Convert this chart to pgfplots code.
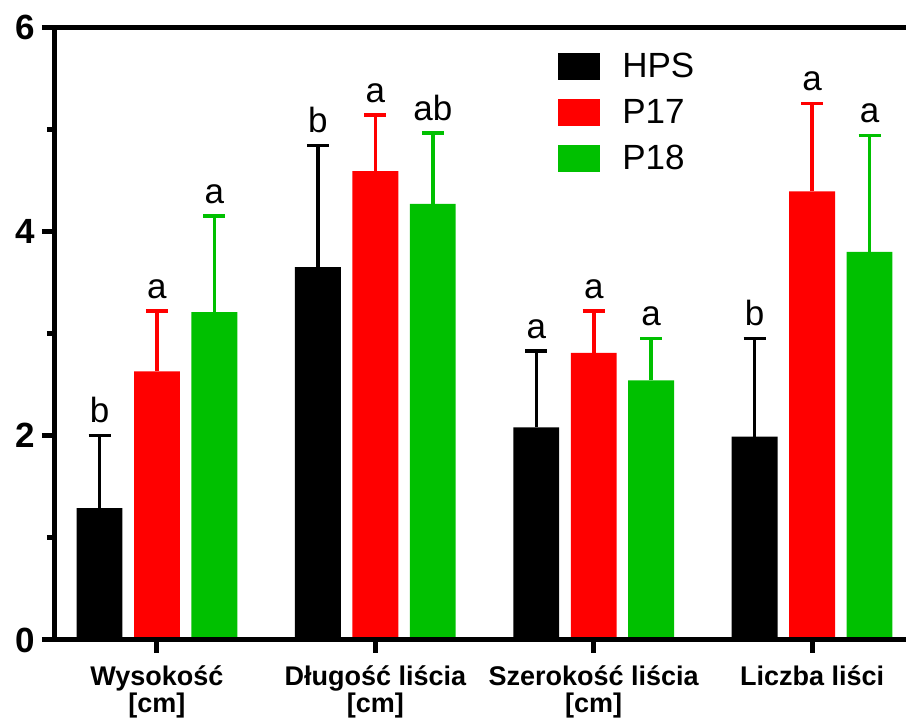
\documentclass[border=0pt]{standalone}
\usepackage{pgfplots}
\pgfplotsset{compat=1.18}
\usepackage{fontspec}
\setmainfont{Liberation Sans}
\definecolor{pred}{RGB}{255,0,0}
\definecolor{pgreen}{RGB}{0,192,0}
\begin{document}
\begin{tikzpicture}
\useasboundingbox (-27.5pt,-41pt) rectangle (425.5pt,320pt);
\begin{axis}[
  at={(0,0)}, anchor=south west,
  scale only axis, width=425.5pt, height=306.5pt,
  xmin=-0.467, xmax=3.43, ymin=0, ymax=6,
  axis x line*=bottom, axis y line*=left,
  axis line style={line width=2.5pt,-},
  axis on top, clip=false,
  tick align=outside,
  major tick length=6.5pt, minor tick length=4pt,
  tick style={line width=2.5pt, black},
  xtick={0,1,2,3},
  xticklabels={{Wysokość\\{}[cm]},{Długość liścia\\{}[cm]},{Szerokość liścia\\{}[cm]},{Liczba liści}},
  xticklabel style={align=center, font=\bfseries\fontsize{13.5}{13.5}\selectfont, anchor=north, yshift=-3pt},
  ytick={0,2,4,6}, minor ytick={1,3,5},
  yticklabel style={font=\bfseries\fontsize{17.5}{20}\selectfont},
  /pgf/number format/assume math mode=true,
  legend image code/.code={\fill[#1] (0pt,-6.5pt) rectangle (20.5pt,6.5pt); \path (30pt,0pt);},
  legend style={at={(0.583,0.972)}, anchor=north west, draw=none, fill=none,
    font=\fontsize{17.5}{20}\selectfont, row sep=5.5pt},
  legend cell align=left,
]
\draw[line width=2.5pt] (rel axis cs:0,1) -- (rel axis cs:1,1);
% HPS
\addplot[ybar, bar width=0.21, bar shift=0pt, fill=black, draw=none, forget plot,
  error bars/.cd, y dir=plus, y explicit,
  error bar style={line width=1.8pt, black},
  error mark options={rotate=90, line width=1.8pt, mark size=5.5pt, black}]
  coordinates {(-0.263,1.29) +- (0,0.71) (0.737,3.65) +- (0,1.19) (1.737,2.08) +- (0,0.75) (2.737,1.99) +- (0,0.96)};
% P17
\addplot[ybar, bar width=0.21, bar shift=0pt, fill=pred, draw=none, forget plot,
  error bars/.cd, y dir=plus, y explicit,
  error bar style={line width=1.8pt, pred},
  error mark options={rotate=90, line width=1.8pt, mark size=5.5pt, pred}]
  coordinates {(0,2.63) +- (0,0.59) (1,4.59) +- (0,0.55) (2,2.81) +- (0,0.41) (3,4.39) +- (0,0.86)};
% P18
\addplot[ybar, bar width=0.21, bar shift=0pt, fill=pgreen, draw=none, forget plot,
  error bars/.cd, y dir=plus, y explicit,
  error bar style={line width=1.8pt, pgreen},
  error mark options={rotate=90, line width=1.8pt, mark size=5.5pt, pgreen}]
  coordinates {(0.263,3.21) +- (0,0.94) (1.263,4.27) +- (0,0.69) (2.263,2.54) +- (0,0.41) (3.263,3.80) +- (0,1.14)};
% letters
\addplot[draw=none, forget plot, nodes near coords, point meta=explicit symbolic,
  nodes near coords style={font=\fontsize{17.5}{20}\selectfont, anchor=south, inner sep=0pt, yshift=6pt}]
  coordinates {(-0.263,2.00)[b] (0,3.22)[a] (0.263,4.15)[a]
               (0.737,4.84)[b] (1,5.14)[a] (1.263,4.96)[ab]
               (1.737,2.83)[a] (2,3.22)[a] (2.263,2.95)[a]
               (2.737,2.95)[b] (3,5.25)[a] (3.263,4.94)[a]};
\addlegendimage{black}\addlegendentry{HPS}
\addlegendimage{pred}\addlegendentry{P17}
\addlegendimage{pgreen}\addlegendentry{P18}
\end{axis}
\end{tikzpicture}
\end{document}
